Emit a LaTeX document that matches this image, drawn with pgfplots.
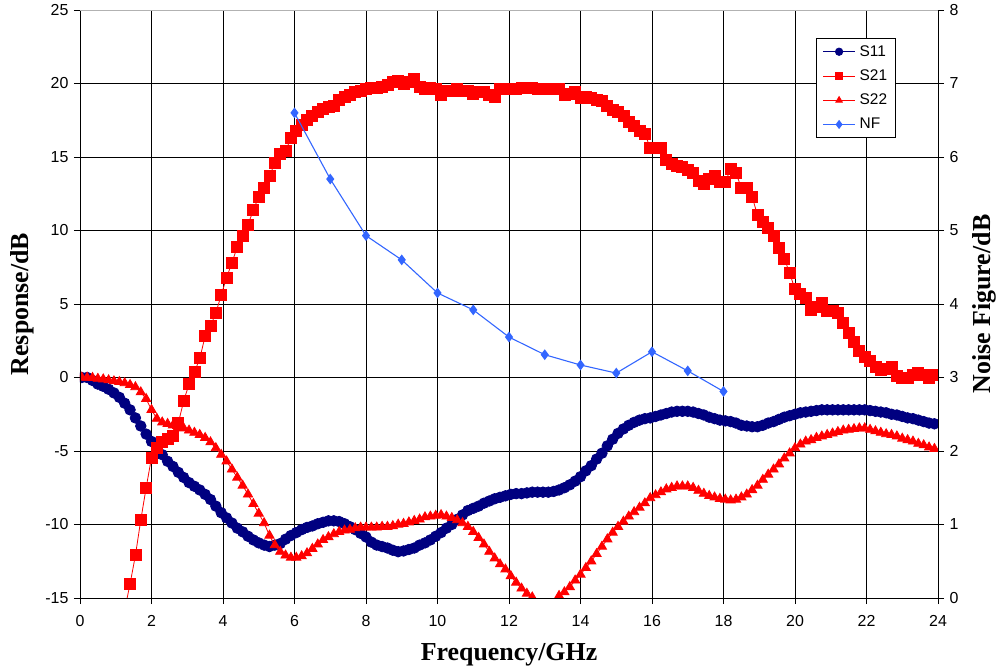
\documentclass[border=0pt]{standalone}
\usepackage{pgfplots}
\pgfplotsset{compat=1.18}
\usepackage{pgfplotstable}
\usepackage{fontspec}
\setmainfont{Liberation Sans}
\newfontfamily\tnr{Liberation Serif}

\definecolor{snavy}{RGB}{0,0,128}
\definecolor{sred}{RGB}{255,0,0}
\definecolor{nfblue}{RGB}{51,102,255}

% measured S-parameters, 0.15 GHz steps
\pgfplotstableread{
f s11 s21 s22
0.05 0.0 nan 0.0
0.20 0.0 nan 0.0
0.35 -0.2 nan -0.02
0.50 -0.45 nan -0.08
0.65 -0.6 nan -0.12
0.80 -0.8 nan -0.18
0.95 -1.05 nan -0.25
1.10 -1.35 nan -0.3
1.25 -1.75 -15.8 -0.38
1.40 -2.2 -14.05 -0.5
1.55 -2.75 -12.1 -0.65
1.70 -3.3 -9.7 -1.0
1.85 -3.85 -7.5 -1.45
2.00 -4.35 -5.45 -2.2
2.15 -4.8 -4.8 -2.8
2.30 -5.25 -4.4 -3.05
2.45 -5.7 -4.2 -3.15
2.60 -6.05 -4.0 -3.25
2.75 -6.45 -3.1 -3.35
2.90 -6.8 -1.6 -3.45
3.05 -7.15 -0.45 -3.6
3.20 -7.4 0.35 -3.75
3.35 -7.65 1.3 -3.9
3.50 -7.95 2.8 -4.1
3.65 -8.3 3.5 -4.4
3.80 -8.75 4.4 -4.8
3.95 -9.2 5.6 -5.25
4.10 -9.55 6.8 -5.7
4.25 -9.9 7.8 -6.25
4.40 -10.25 8.9 -6.8
4.55 -10.5 9.6 -7.35
4.70 -10.8 10.4 -7.95
4.85 -11.05 11.4 -8.6
5.00 -11.25 12.3 -9.25
5.15 -11.4 12.9 -9.9
5.30 -11.5 13.7 -10.75
5.45 -11.4 14.6 -11.4
5.60 -11.3 15.2 -11.85
5.75 -11.0 15.4 -12.1
5.90 -10.75 16.3 -12.25
6.05 -10.55 16.8 -12.25
6.20 -10.35 17.2 -12.15
6.35 -10.2 17.5 -11.95
6.50 -10.1 17.8 -11.65
6.65 -9.95 18.1 -11.35
6.80 -9.85 18.3 -11.05
6.95 -9.75 18.4 -10.85
7.10 -9.75 18.5 -10.65
7.25 -9.8 18.9 -10.5
7.40 -9.95 19.1 -10.4
7.55 -10.15 19.2 -10.35
7.70 -10.35 19.4 -10.25
7.85 -10.6 19.5 -10.2
8.00 -10.85 19.6 -10.2
8.15 -11.2 19.7 -10.2
8.30 -11.4 19.7 -10.2
8.45 -11.5 19.8 -10.15
8.60 -11.6 19.9 -10.15
8.75 -11.75 20.1 -10.1
8.90 -11.85 20.2 -10.0
9.05 -11.8 20.0 -9.95
9.20 -11.7 20.1 -9.85
9.35 -11.6 20.3 -9.75
9.50 -11.4 19.8 -9.65
9.65 -11.25 19.6 -9.5
9.80 -11.05 19.7 -9.45
9.95 -10.8 19.6 -9.4
10.10 -10.55 19.2 -9.35
10.25 -10.25 19.5 -9.45
10.40 -10.0 19.5 -9.55
10.55 -9.65 19.6 -9.7
10.70 -9.35 19.5 -9.9
10.85 -9.05 19.5 -10.15
11.00 -8.9 19.3 -10.5
11.15 -8.75 19.4 -10.9
11.30 -8.55 19.4 -11.35
11.45 -8.4 19.2 -11.85
11.60 -8.25 19.1 -12.3
11.75 -8.15 19.6 -12.7
11.90 -8.05 19.6 -13.05
12.05 -7.95 19.6 -13.5
12.20 -7.9 19.6 -13.95
12.35 -7.9 19.7 -14.35
12.50 -7.85 19.7 -14.7
12.65 -7.8 19.7 -14.95
12.80 -7.8 19.6 -15.3
12.95 -7.8 19.6 -15.4
13.10 -7.8 19.6 -15.4
13.25 -7.75 19.6 -15.3
13.40 -7.65 19.6 -14.85
13.55 -7.5 19.2 -14.6
13.70 -7.3 19.3 -14.25
13.85 -7.05 19.4 -13.8
14.00 -6.75 19.0 -13.4
14.15 -6.35 19.1 -12.95
14.30 -6.0 19.0 -12.5
14.45 -5.55 18.9 -12.0
14.60 -5.15 18.8 -11.5
14.75 -4.65 18.5 -11.0
14.90 -4.2 18.2 -10.55
15.05 -3.8 18.1 -10.15
15.20 -3.5 17.8 -9.8
15.35 -3.25 17.4 -9.45
15.50 -3.05 17.1 -9.15
15.65 -2.9 16.8 -8.85
15.80 -2.8 16.6 -8.55
15.95 -2.75 15.6 -8.2
16.10 -2.65 15.6 -8.0
16.25 -2.55 15.6 -7.8
16.40 -2.45 14.8 -7.6
16.55 -2.35 14.5 -7.5
16.70 -2.3 14.4 -7.4
16.85 -2.3 14.3 -7.4
17.00 -2.3 14.1 -7.4
17.15 -2.35 13.9 -7.5
17.30 -2.45 13.4 -7.7
17.45 -2.55 13.2 -7.9
17.60 -2.7 13.5 -8.05
17.75 -2.8 13.7 -8.15
17.90 -2.9 13.3 -8.25
18.05 -2.95 13.3 -8.3
18.20 -3.0 14.2 -8.35
18.35 -3.1 13.9 -8.3
18.50 -3.25 12.9 -8.15
18.65 -3.3 12.9 -7.95
18.80 -3.35 12.3 -7.65
18.95 -3.35 11.05 -7.35
19.10 -3.25 10.6 -6.95
19.25 -3.1 10.2 -6.6
19.40 -3.0 9.6 -6.25
19.55 -2.85 8.8 -5.9
19.70 -2.7 8.1 -5.5
19.85 -2.6 7.1 -5.15
20.00 -2.5 6.0 -4.8
20.15 -2.4 5.7 -4.55
20.30 -2.35 5.4 -4.35
20.45 -2.3 4.6 -4.25
20.60 -2.25 4.8 -4.1
20.75 -2.2 5.05 -4.0
20.90 -2.2 4.5 -3.9
21.05 -2.2 4.5 -3.8
21.20 -2.2 4.4 -3.7
21.35 -2.2 3.7 -3.6
21.50 -2.2 3.0 -3.55
21.65 -2.2 2.4 -3.5
21.80 -2.2 1.8 -3.45
21.95 -2.2 1.4 -3.45
22.10 -2.25 1.1 -3.55
22.25 -2.3 0.7 -3.65
22.40 -2.35 0.5 -3.75
22.55 -2.4 0.6 -3.85
22.70 -2.5 0.7 -3.9
22.85 -2.55 0.1 -4.0
23.00 -2.65 0.0 -4.15
23.15 -2.75 -0.05 -4.25
23.30 -2.8 0.2 -4.35
23.45 -2.9 0.3 -4.5
23.60 -3.0 0.2 -4.6
23.75 -3.1 -0.05 -4.75
23.90 -3.15 0.2 -4.85
24.05 -3.25 0.1 -4.95
}\sparams

\begin{document}
\begin{tikzpicture}
\pgfplotsset{
  chartbase/.style={
    width=858bp, height=588bp, scale only axis,
    xmin=0, xmax=24,
    tick align=outside,
    major tick length=6bp,
    tick style={black, line width=0.75bp},
    axis line style={black, line width=0.9bp},
    ticklabel style={font=\fontsize{16}{19}\selectfont},
    /pgf/number format/assume math mode=true,
    clip marker paths=true,
  },
}
\begin{axis}[chartbase, name=ax,
  ymin=-15, ymax=25, ytick={-15,-10,...,25},
  xtick={0,2,...,24},
  xtick pos=bottom, ytick pos=left,
  xticklabel style={yshift=-8bp},
  yticklabel style={xshift=-2bp},
  grid=major, major grid style={black, line width=0.7bp},
  xlabel={\tnr\bfseries Frequency/GHz},
  ylabel={\tnr\bfseries Response/dB},
  label style={font=\fontsize{26}{30}\selectfont},
  xlabel style={at={(axis description cs:0.5,-0.097)}, anchor=center},
  ylabel style={at={(axis description cs:-0.0676,0.5)}, anchor=center},
  legend style={at={(axis description cs:0.858,0.952)}, anchor=north west,
    draw=black, line width=0.75bp, fill=white,
    font=\fontsize{15.5}{18}\selectfont, row sep=8bp,
    inner xsep=6bp, inner ysep=5bp,
    /tikz/every odd column/.append style={column sep=2bp}},
  legend cell align=left,
  legend image code/.code={%
    \draw[mark repeat=2,mark phase=2,#1] plot coordinates {(0bp,0bp) (16bp,0bp) (32bp,0bp)};},
  legend image post style={mark size=3.7bp},
]
\addplot[snavy, line width=0.8bp, mark=*, mark size=5.3bp,
  mark options={solid, fill=snavy, draw=snavy}] table[x=f, y=s11] {\sparams};
\addplot[sred, line width=0.8bp, mark=square*, mark size=5.5bp,
  mark options={solid, fill=sred, draw=sred}] table[x=f, y=s21] {\sparams};
\addplot[sred, line width=0.8bp, mark=triangle*, mark size=5.3bp,
  mark options={solid, fill=sred, draw=sred}] table[x=f, y=s22] {\sparams};
\addlegendimage{nfblue, line width=1.1bp, mark=diamond*, mark options={solid, fill=nfblue, draw=nfblue}}
\legend{S11,S21,S22,NF}
\end{axis}

\begin{axis}[chartbase,
  ymin=0, ymax=8, ytick={0,1,...,8},
  xtick=\empty,
  ytick pos=right, yticklabel pos=right,
  yticklabel style={xshift=2bp},
  ylabel={\tnr\bfseries Noise Figure/dB},
  label style={font=\fontsize{26}{30}\selectfont},
  ylabel style={at={(axis description cs:1.0536,0.5)}, anchor=center, rotate=0},
]
\addplot[nfblue, line width=1.1bp, mark=diamond*, mark size=4.5bp,
  mark options={solid, fill=nfblue, draw=nfblue}] coordinates {
  (6,6.60) (7,5.70) (8,4.93) (9,4.60) (10,4.15) (11,3.92) (12,3.55)
  (13,3.31) (14,3.17) (15,3.06) (16,3.35) (17,3.09) (18,2.81)};
\end{axis}

\draw[gray!60, line width=0.9bp] (ax.north west) -- (ax.north east);

\pgfresetboundingbox
\path[use as bounding box] ([shift={(-80bp,-74bp)}]ax.south west)
  rectangle ([shift={(60bp,10bp)}]ax.north east);
\end{tikzpicture}
\end{document}
